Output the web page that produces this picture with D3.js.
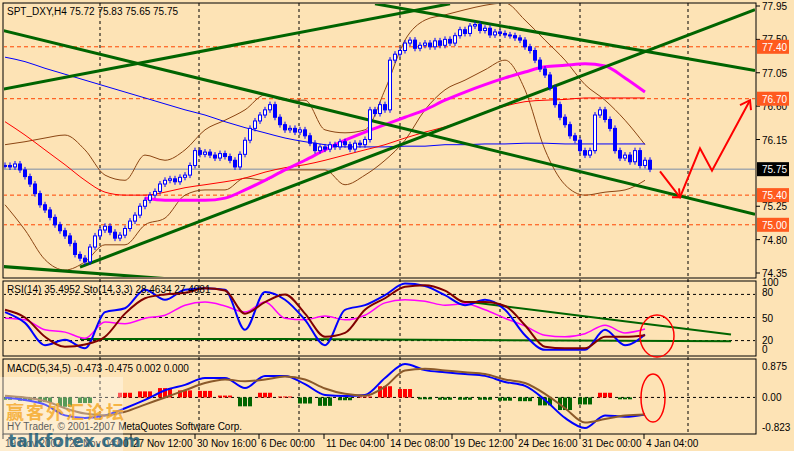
<!DOCTYPE html>
<html><head><meta charset="utf-8">
<script src="https://cdn.jsdelivr.net/npm/d3@7"></script>
<style>body{margin:0;background:#fde3b5}svg{display:block}</style>
</head><body><svg width="794" height="451"></svg>
<script>
// closes of H4 bars, 19 Nov 2007 .. 4 Jan 2008
const closes = [75.80,75.78,75.82,75.74,75.65,75.55,75.42,75.27,75.20,75.10,75.00,74.92,74.85,74.75,74.60,74.55,74.50,74.70,74.85,74.93,
74.98,74.90,74.82,74.86,74.95,75.05,75.13,75.25,75.33,75.40,75.45,75.55,75.60,75.62,75.58,75.64,75.67,75.80,76.00,75.95,
75.98,75.94,75.90,75.96,75.92,75.87,75.78,75.95,76.14,76.30,76.40,76.48,76.55,76.62,76.45,76.35,76.28,76.30,76.25,76.28,
76.20,76.10,76.00,76.05,76.02,76.08,76.05,76.12,76.08,76.02,76.10,76.08,76.15,76.55,76.50,76.62,76.55,77.22,77.30,77.35,
77.45,77.49,77.38,77.42,77.45,77.40,77.48,77.42,77.50,77.45,77.55,77.63,77.58,77.68,77.70,77.62,77.65,77.56,77.60,77.58,
77.56,77.55,77.52,77.49,77.40,77.35,77.22,77.10,77.02,76.85,76.62,76.45,76.35,76.20,76.14,76.00,75.94,76.00,76.48,76.55,
76.42,76.30,76.00,75.90,75.94,75.85,76.00,75.80,75.87,75.75];
// indicators sampled every 4 bars
const bandUpper = [76.08,76.12,76.17,76.21,76.01,75.67,75.60,75.94,75.87,76.01,76.28,76.41,76.55,76.75,76.68,76.68,76.28,76.24,76.28,76.82,77.49,77.76,77.83,77.90,77.96,77.99,77.76,77.49,77.22,76.89,76.68,76.41,76.08];
const bandLower = [75.27,74.93,74.53,74.39,74.50,74.73,74.73,75.00,75.09,75.40,75.47,75.47,75.63,75.60,75.74,75.74,75.74,75.54,75.67,75.87,76.14,76.55,76.82,76.95,77.09,77.22,76.82,76.01,75.54,75.40,75.44,75.47,75.60];
const maBlue = [77.26,77.20,77.11,77.03,76.95,76.87,76.79,76.71,76.63,76.55,76.48,76.39,76.31,76.24,76.17,76.12,76.08,76.05,76.05,76.05,76.06,76.06,76.08,76.08,76.09,76.09,76.10,76.10,76.09,76.09,76.09,76.09,76.09];
const maMagenta = [null,null,null,null,null,null,null,75.36,75.33,75.33,75.33,75.36,75.47,75.60,75.74,75.87,76.01,76.14,76.25,76.35,76.45,76.55,76.68,76.79,76.89,76.98,77.06,77.13,77.15,77.17,77.14,76.98,76.79];
const maRed = [76.39,76.21,76.01,75.81,75.60,75.44,75.40,75.40,75.44,75.50,75.54,75.58,75.63,75.71,75.77,75.81,75.87,75.94,76.01,76.08,76.17,76.25,76.32,76.41,76.52,76.60,76.66,76.68,76.69,76.71,76.71,76.71,76.71];
const stochK = [57,43,14,21,10,57,62,86,73,86,88,86,34,83,73,47,14,60,66,79,94,91,79,66,73,60,27,8,8,8,34,14,28];
const stochD = [60,50,25,12,15,25,55,75,80,82,88,85,55,70,80,55,25,30,60,75,90,92,85,70,70,65,40,12,10,10,25,25,27];
const rsi = [49,47,34,31,23,44,42,49,53,66,70,65,57,70,49,47,52,47,53,69,73,71,66,68,60,49,39,27,25,29,40,30,35];
const macdMain = [0.0,-0.07,-0.2,-0.5,-0.57,-0.5,-0.3,-0.07,0.2,0.35,0.54,0.54,0.26,0.6,0.6,0.37,0.07,0.04,0.07,0.54,0.93,0.76,0.7,0.65,0.6,0.43,0.32,-0.07,-0.57,-0.85,-0.5,-0.54,-0.473];
const macdSignal = [0.05,0,-0.1,-0.3,-0.45,-0.5,-0.4,-0.2,0,0.2,0.4,0.5,0.45,0.5,0.58,0.5,0.25,0.1,0.05,0.3,0.75,0.8,0.75,0.7,0.65,0.5,0.4,0.1,-0.3,-0.7,-0.6,-0.5,-0.475];
const priceTicks = [77.95,77.50,77.05,76.60,76.15,75.25,74.80,74.35];
const levels = [77.40,76.70,75.40,75.00];
const lastPrice = 75.75;
const timeLabels = ["19 Nov 2007","22 Nov 04:00","27 Nov 12:00","30 Nov 16:00","6 Dec 00:00","11 Dec 04:00","14 Dec 08:00","19 Dec 12:00","24 Dec 16:00","31 Dec 00:00","4 Jan 04:00"];
const labelBars = [-0.4,12.4,25.2,38,50.8,63.8,76.6,89.4,102.2,115,127.8];
const gridBars = [19,38.8,58.8,79,99,115,136.6];
// trend lines: [bar0, price0, bar1, price1]
const trends = [[-1,77.63,150,75.14],[74,77.98,150,77.08],[15,74.43,150,77.90],[-1,76.82,89,77.98],[-1,74.44,45,74.21]];
// forecast path: [bar, price]
const forecast = [[131,75.72],[135,75.37],[139,76.03],[141.4,75.73],[149,76.68]];

const svg = d3.select("svg");
const W = 794, L = 3, R = 756;
const bg = "#fde3b5";
const x = d3.scaleLinear().domain([0, 129]).range([5, 650]);
const xs = i => x(i * 4);
const y = d3.scaleLinear().domain([74.35, 77.95]).range([273, 6]);
const yR = d3.scaleLinear().domain([0, 100]).range([356, 279]);
const yM = d3.scaleLinear().domain([-0.823, 0.875]).range([427, 366]);
const tf = "'Liberation Sans', Arial, sans-serif";

svg.append("rect").attr("width", W).attr("height", 451).attr("fill", bg);
[[3,278],[281,356],[359,434]].forEach(p => svg.append("rect").attr("x", L).attr("y", p[0]).attr("width", R - L).attr("height", p[1] - p[0])
  .attr("fill", "none").attr("stroke", "#000"));

const defs = svg.append("defs");
[["cm",3,278],["cr",281,356],["cmacd",359,434]].forEach(c => defs.append("clipPath").attr("id", c[0]).append("rect")
  .attr("x", L + 1).attr("y", c[1] + 1).attr("width", R - L - 2).attr("height", c[2] - c[1] - 2));

// vertical grid
gridBars.forEach(b => svg.append("line").attr("x1", x(b)).attr("x2", x(b)).attr("y1", 3).attr("y2", 434)
  .attr("stroke", "#000").attr("stroke-dasharray", "3,3"));
const main = svg.append("g").attr("clip-path", "url(#cm)");

levels.forEach(v => main.append("line").attr("x1", L).attr("x2", R).attr("y1", y(v)).attr("y2", y(v))
  .attr("stroke", "#ff4500").attr("stroke-dasharray", "4,3"));
main.append("line").attr("x1", L).attr("x2", R).attr("y1", y(lastPrice)).attr("y2", y(lastPrice)).attr("stroke", "#7a8ca8");

const line = (sc, arr) => d3.line().defined(d => d != null).x((d, i) => xs(i)).y(d => sc(d)).curve(d3.curveMonotoneX)(arr);
main.append("path").attr("d", line(y, bandUpper)).attr("fill", "none").attr("stroke", "#8b4513");
main.append("path").attr("d", line(y, bandLower)).attr("fill", "none").attr("stroke", "#8b4513");
main.append("path").attr("d", line(y, maBlue)).attr("fill", "none").attr("stroke", "#0000ff");
main.append("path").attr("d", line(y, maRed)).attr("fill", "none").attr("stroke", "#ff0000");
main.append("path").attr("d", line(y, maMagenta)).attr("fill", "none").attr("stroke", "#ff00ff").attr("stroke-width", 3);

trends.forEach(t => main.append("line").attr("x1", x(t[0])).attr("y1", y(t[1])).attr("x2", x(t[2])).attr("y2", y(t[3]))
  .attr("stroke", "#006400").attr("stroke-width", 3));

// candles
closes.forEach((c, i) => {
  const o = i ? closes[i - 1] : c;
  const top = y(Math.max(o, c)), bot = y(Math.min(o, c));
  main.append("line").attr("x1", x(i)).attr("x2", x(i)).attr("y1", top - 3).attr("y2", bot + 3).attr("stroke", "#0000ff");
  main.append("rect").attr("x", x(i) - 1.5).attr("y", top).attr("width", 3).attr("height", Math.max(1, bot - top))
    .attr("fill", c >= o ? "#fff" : "#0000ff").attr("stroke", "#0000ff").attr("stroke-width", 1);
});

// forecast arrow
svg.append("path").attr("d", d3.line().x(d => x(d[0])).y(d => y(d[1]))(forecast)).attr("fill", "none").attr("stroke", "red").attr("stroke-width", 2);
const a1 = forecast[1], a2 = forecast[4];
svg.append("path").attr("d", `M${x(a1[0]) - 8},${y(a1[1])}L${x(a1[0])},${y(a1[1])}L${x(a1[0]) - 1},${y(a1[1]) - 9}`).attr("fill","none").attr("stroke","red").attr("stroke-width",2);
svg.append("path").attr("d", `M${x(a2[0]) - 10},${y(a2[1]) + 5}L${x(a2[0])},${y(a2[1])}L${x(a2[0]) + 1},${y(a2[1]) + 10}`).attr("fill","none").attr("stroke","red").attr("stroke-width",2);

// price axis
const label = (xx, yy, t, fill) => svg.append("text").attr("x", xx).attr("y", yy).text(t).attr("font-family", tf).attr("font-size", 10).attr("fill", fill || "#000");
priceTicks.forEach(v => {
  svg.append("line").attr("x1", R).attr("x2", R + 4).attr("y1", y(v)).attr("y2", y(v)).attr("stroke", "#000");
  label(762, y(v) + 4, v.toFixed(2));
});
levels.forEach(v => {
  svg.append("rect").attr("x", 757).attr("y", y(v) - 7).attr("width", 32).attr("height", 14).attr("fill", "#ff5a1f");
  label(762, y(v) + 4, v.toFixed(2), "#fff");
});
svg.append("rect").attr("x", 757).attr("y", y(lastPrice) - 7).attr("width", 32).attr("height", 14).attr("fill", "#000");
label(762, y(lastPrice) + 4, lastPrice.toFixed(2), "#fff");

label(7, 15, "SPT_DXY,H4  75.72 75.83 75.65 75.75");

// RSI / Stochastic panel
const rp = svg.append("g").attr("clip-path", "url(#cr)");
[80,50,20].forEach(v => rp.append("line").attr("x1", L).attr("x2", R).attr("y1", yR(v)).attr("y2", yR(v)).attr("stroke", "#000").attr("stroke-dasharray", "3,3"));
rp.append("line").attr("x1", x(15)).attr("x2", x(56)).attr("y1", yR(22)).attr("y2", yR(22)).attr("stroke", "#006400").attr("stroke-width", 2);
rp.append("line").attr("x1", x(56)).attr("x2", R - 25).attr("y1", yR(22)).attr("y2", yR(19)).attr("stroke", "#006400").attr("stroke-width", 2);
rp.append("line").attr("x1", x(93)).attr("x2", R - 25).attr("y1", yR(70)).attr("y2", yR(28)).attr("stroke", "#006400").attr("stroke-width", 2);
rp.append("path").attr("d", line(yR, rsi)).attr("fill", "none").attr("stroke", "#ff00ff").attr("stroke-width", 1.5);
rp.append("path").attr("d", line(yR, stochK)).attr("fill", "none").attr("stroke", "#0000ff").attr("stroke-width", 2);
rp.append("path").attr("d", line(yR, stochD)).attr("fill", "none").attr("stroke", "#800000").attr("stroke-width", 2);
[[100,286],[80,296],[50,322],[20,344],[0,353]].forEach(t => label(762, t[1], t[0]));
label(7, 293, "RSI(14) 35.4952  Sto(14,3,3) 28.4634 27.4981");
svg.append("ellipse").attr("cx", 657).attr("cy", 336).attr("rx", 17).attr("ry", 21).attr("fill", "none").attr("stroke", "red").attr("stroke-width", 1.5);

// MACD panel
const mp = svg.append("g").attr("clip-path", "url(#cmacd)");
mp.append("line").attr("x1", L).attr("x2", R).attr("y1", yM(0)).attr("y2", yM(0)).attr("stroke", "#000").attr("stroke-dasharray", "3,3");
macdMain.forEach((v, i) => {
  const h = (v - macdSignal[i]) * 1.3;
  [-1, 0, 1].forEach(k => mp.append("rect").attr("x", xs(i) + k * 5 - 2).attr("width", 4)
    .attr("y", Math.min(yM(0), yM(h))).attr("height", Math.abs(yM(h) - yM(0)))
    .attr("fill", h >= 0 ? "#ff0000" : "#006400"));
});
mp.append("path").attr("d", line(yM, macdMain)).attr("fill", "none").attr("stroke", "#0000ff").attr("stroke-width", 2);
mp.append("path").attr("d", line(yM, macdSignal)).attr("fill", "none").attr("stroke", "#8b5a2b").attr("stroke-width", 2);
[[0.875,"0.875"],[0,"0.00"],[-0.823,"-0.823"]].forEach(t => label(762, yM(t[0]) + 4, t[1]));
label(7, 372, "MACD(5,34,5) -0.473 -0.475 0.002 0.000");
svg.append("ellipse").attr("cx", 653).attr("cy", 398).attr("rx", 12).attr("ry", 24).attr("fill", "none").attr("stroke", "red").attr("stroke-width", 1.5);
label(7, 430, "HY Trader, © 2001-2007 MetaQuotes Software Corp.");

// time axis
timeLabels.forEach((t, i) => {
  const xx = Math.max(3, x(labelBars[i]));
  svg.append("line").attr("x1", xx).attr("x2", xx).attr("y1", 434).attr("y2", 439).attr("stroke", "#000");
  label(xx + 2, 447, t);
});

// watermark
svg.append("rect").attr("x", 0).attr("y", 377).attr("width", 123).attr("height", 74).attr("fill", "#fff").attr("opacity", 0.35);
svg.append("text").attr("x", 6).attr("y", 419).text("赢客外汇论坛").attr("font-family", "'Noto Sans CJK SC'").attr("font-size", 18)
  .attr("letter-spacing", 2).attr("font-weight", "bold").attr("fill", "#f5a623").attr("opacity", 0.8);
svg.append("text").attr("x", 8).attr("y", 447).text("talkforex.com").attr("font-family", "'DejaVu Sans', sans-serif").attr("font-size", 17)
  .attr("font-weight", "bold").attr("fill", "#1f5f7a").attr("opacity", 0.85);
</script></body></html>
